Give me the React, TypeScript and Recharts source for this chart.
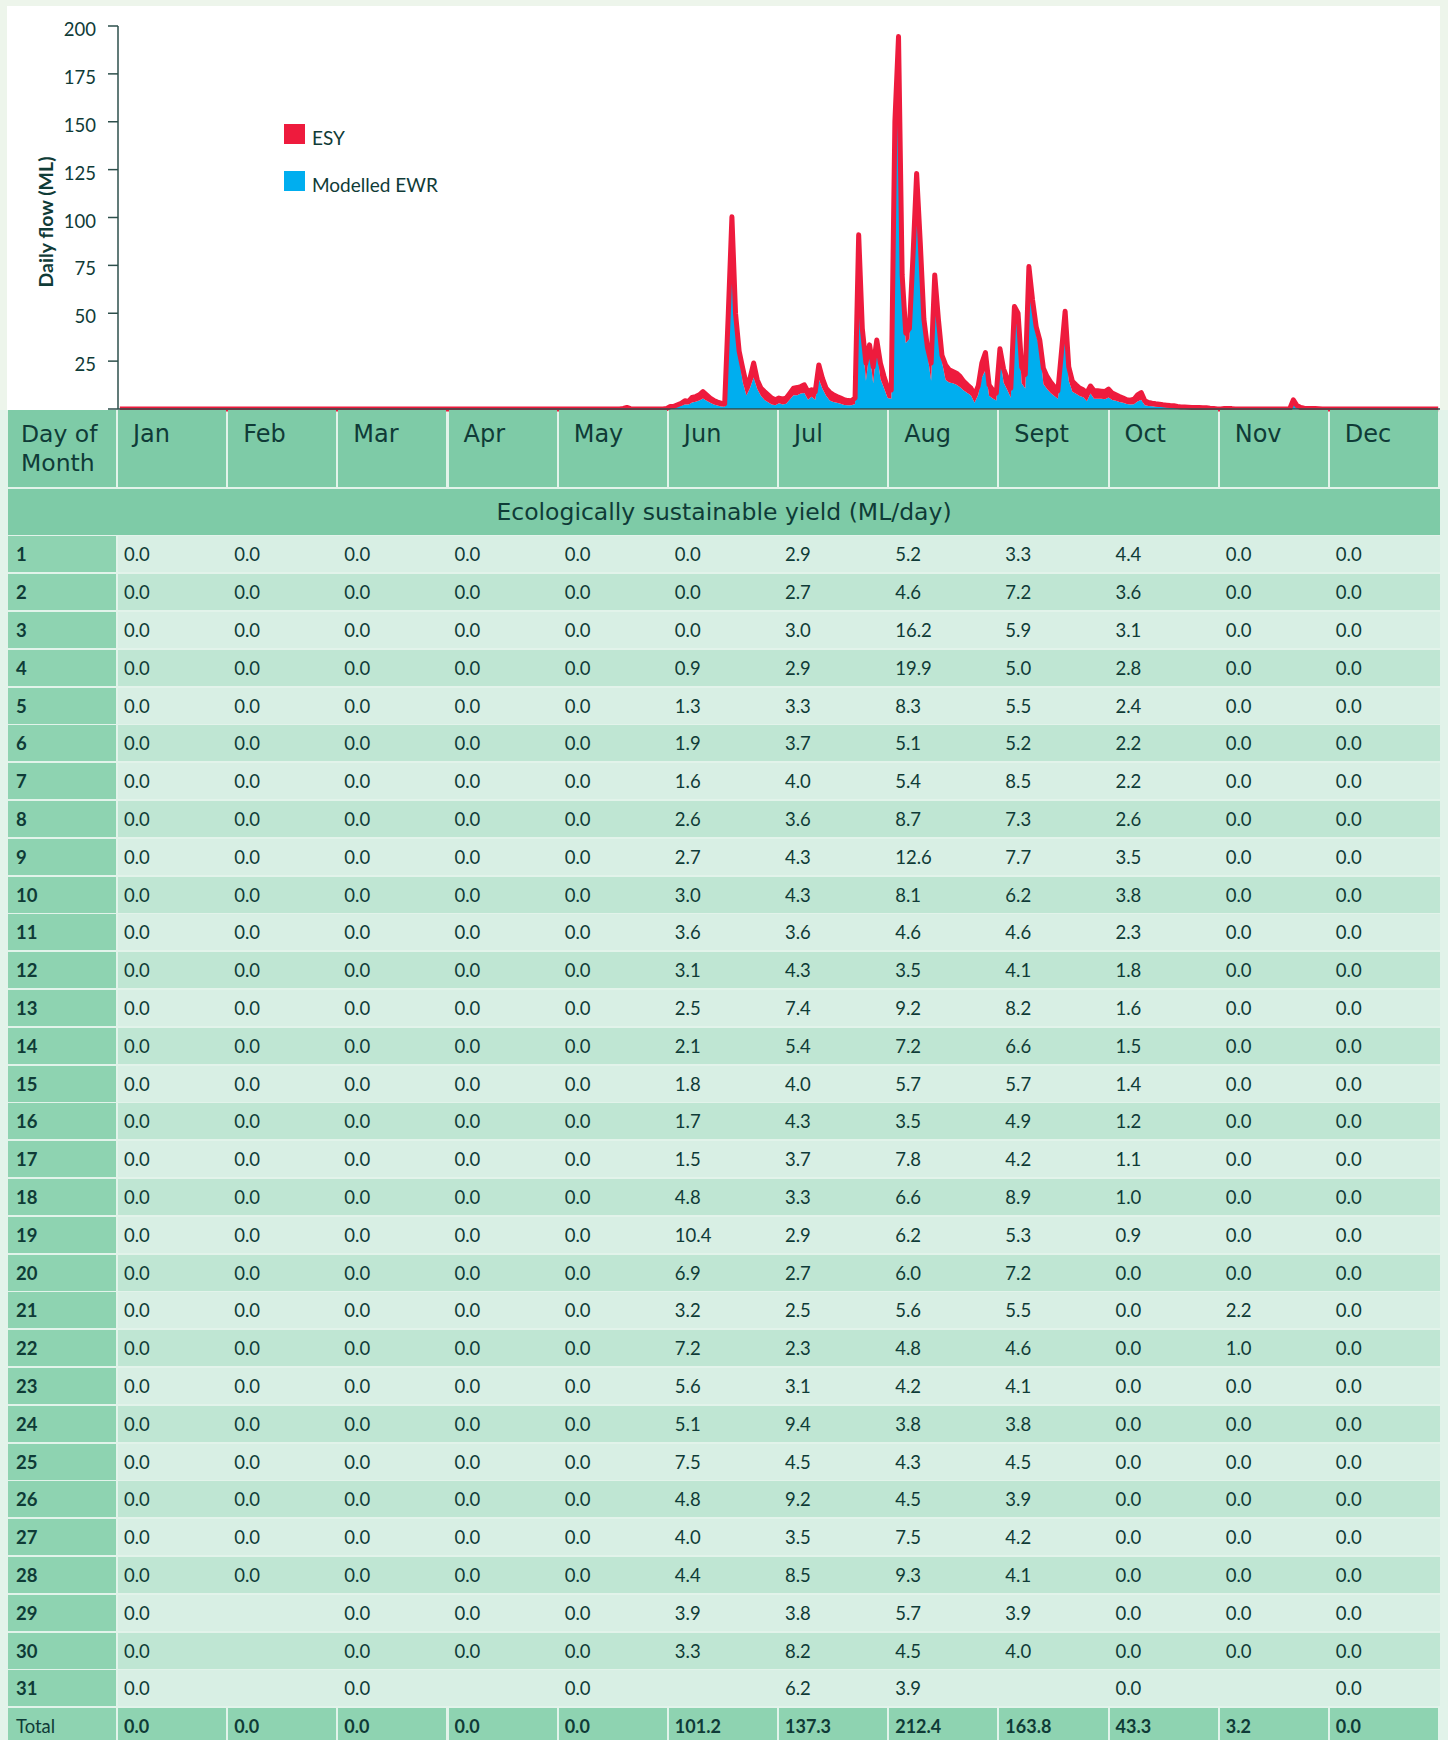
import React from 'react';
import { AreaChart, Area, XAxis, YAxis, Legend } from 'recharts';

const months = ['Jan', 'Feb', 'Mar', 'Apr', 'May', 'Jun', 'Jul', 'Aug', 'Sept', 'Oct', 'Nov', 'Dec'];
const dayOfMonth = [1, 2, 3, 4, 5, 6, 7, 8, 9, 10, 11, 12, 13, 14, 15, 16, 17, 18, 19, 20, 21, 22, 23, 24, 25, 26, 27, 28, 29, 30, 31];
const monthStartTicks = [0, 31, 59, 90, 120, 151, 181, 212, 243, 273, 304, 334, 365];
const flowTicks = [0, 25, 50, 75, 100, 125, 150, 175, 200];

// Ecologically sustainable yield (ML/day), as printed in the table
const esyJan = [0, 0, 0, 0, 0, 0, 0, 0, 0, 0, 0, 0, 0, 0, 0, 0, 0, 0, 0, 0, 0, 0, 0, 0, 0, 0, 0, 0, 0, 0, 0];
const esyFeb = [0, 0, 0, 0, 0, 0, 0, 0, 0, 0, 0, 0, 0, 0, 0, 0, 0, 0, 0, 0, 0, 0, 0, 0, 0, 0, 0, 0];
const esyMar = [0, 0, 0, 0, 0, 0, 0, 0, 0, 0, 0, 0, 0, 0, 0, 0, 0, 0, 0, 0, 0, 0, 0, 0, 0, 0, 0, 0, 0, 0, 0];
const esyApr = [0, 0, 0, 0, 0, 0, 0, 0, 0, 0, 0, 0, 0, 0, 0, 0, 0, 0, 0, 0, 0, 0, 0, 0, 0, 0, 0, 0, 0, 0];
const esyMay = [0, 0, 0, 0, 0, 0, 0, 0, 0, 0, 0, 0, 0, 0, 0, 0, 0, 0, 0, 0, 0, 0, 0, 0, 0, 0, 0, 0, 0, 0, 0];
const esyJun = [0.0, 0.0, 0.0, 0.9, 1.3, 1.9, 1.6, 2.6, 2.7, 3.0, 3.6, 3.1, 2.5, 2.1, 1.8, 1.7, 1.5, 4.8, 10.4, 6.9, 3.2, 7.2, 5.6, 5.1, 7.5, 4.8, 4.0, 4.4, 3.9, 3.3];
const esyJul = [2.9, 2.7, 3.0, 2.9, 3.3, 3.7, 4.0, 3.6, 4.3, 4.3, 3.6, 4.3, 7.4, 5.4, 4.0, 4.3, 3.7, 3.3, 2.9, 2.7, 2.5, 2.3, 3.1, 9.4, 4.5, 9.2, 3.5, 8.5, 3.8, 8.2, 6.2];
const esyAug = [5.2, 4.6, 16.2, 19.9, 8.3, 5.1, 5.4, 8.7, 12.6, 8.1, 4.6, 3.5, 9.2, 7.2, 5.7, 3.5, 7.8, 6.6, 6.2, 6.0, 5.6, 4.8, 4.2, 3.8, 4.3, 4.5, 7.5, 9.3, 5.7, 4.5, 3.9];
const esySep = [3.3, 7.2, 5.9, 5.0, 5.5, 5.2, 8.5, 7.3, 7.7, 6.2, 4.6, 4.1, 8.2, 6.6, 5.7, 4.9, 4.2, 8.9, 5.3, 7.2, 5.5, 4.6, 4.1, 3.8, 4.5, 3.9, 4.2, 4.1, 3.9, 4.0];
const esyOct = [4.4, 3.6, 3.1, 2.8, 2.4, 2.2, 2.2, 2.6, 3.5, 3.8, 2.3, 1.8, 1.6, 1.5, 1.4, 1.2, 1.1, 1.0, 0.9, 0, 0, 0, 0, 0, 0, 0, 0, 0, 0, 0, 0];
const esyNov = [0, 0, 0, 0, 0, 0, 0, 0, 0, 0, 0, 0, 0, 0, 0, 0, 0, 0, 0, 0, 2.2, 1.0, 0, 0, 0, 0, 0, 0, 0, 0];
const esyDec = [0, 0, 0, 0, 0, 0, 0, 0, 0, 0, 0, 0, 0, 0, 0, 0, 0, 0, 0, 0, 0, 0, 0, 0, 0, 0, 0, 0, 0, 0, 0];
const esyTotals = [0.0, 0.0, 0.0, 0.0, 0.0, 101.2, 137.3, 212.4, 163.8, 43.3, 3.2, 0.0];

// Modelled EWR daily flow (ML) (blue area under the ESY band)
const ewrJan = [0, 0, 0, 0, 0, 0, 0, 0, 0, 0, 0, 0, 0, 0, 0, 0, 0, 0, 0, 0, 0, 0, 0, 0, 0, 0, 0, 0, 0, 0, 0];
const ewrFeb = [0, 0, 0, 0, 0, 0, 0, 0, 0, 0, 0, 0, 0, 0, 0, 0, 0, 0, 0, 0, 0, 0, 0, 0, 0, 0, 0, 0];
const ewrMar = [0, 0, 0, 0, 0, 0, 0, 0, 0, 0, 0, 0, 0, 0, 0, 0, 0, 0, 0, 0, 0, 0, 0, 0, 0, 0, 0, 0, 0, 0, 0];
const ewrApr = [0, 0, 0, 0, 0, 0, 0, 0, 0, 0, 0, 0, 0, 0, 0, 0, 0, 0, 0, 0, 0, 0, 0, 0, 0, 0, 0, 0, 0, 0];
const ewrMay = [0, 0, 0, 0, 0, 0, 0, 0, 0, 0, 0, 0, 0, 0, 0, 0, 0, 0, 0, 0.3, 0.8, 0.2, 0, 0, 0, 0, 0, 0, 0, 0, 0];
const ewrJun = [0.3, 1.3, 1.4, 1.3, 1.7, 2.4, 2.3, 3.4, 3.8, 4.4, 5.5, 4.3, 3.2, 2.4, 1.8, 1.3, 1.2, 45, 90, 43, 27, 14, 7, 11, 16.5, 10.4, 6.9, 4.7, 3.5, 2.4];
const ewrJul = [1.9, 3.0, 2.3, 2.8, 5.0, 7.2, 7.2, 8.1, 8.3, 4.8, 6.4, 4.8, 15.6, 10.6, 6.9, 4.5, 3.7, 3.2, 2.8, 2.1, 1.9, 2.0, 2.6, 81.6, 37.5, 14.8, 30, 13.5, 32.2, 15.8, 10.8];
const ewrAug = [5.7, 5.4, 134, 174.6, 61.7, 34.5, 36.6, 71.3, 110.4, 78.9, 42.4, 28.5, 14.8, 62.8, 41.3, 24.5, 15.2, 13.9, 13.4, 12.7, 11.4, 9.6, 8.4, 7.1, 3.2, 7.5, 16.5, 20.2, 6.9, 5.5, 4.4];
const ewrSep = [28.2, 13.8, 10.1, 5.9, 48, 44.8, 13.5, 10.7, 66.7, 50.8, 38.4, 31.9, 13.1, 10.4, 8.3, 6.8, 5.3, 21.1, 45.7, 14.8, 9, 8, 6.8, 6.2, 4, 8.1, 5.3, 5.4, 5.4, 5.1];
const ewrOct = [6.0, 4.7, 4.3, 3.7, 3.3, 2.6, 2.4, 2.5, 3.9, 4.8, 2.0, 1.6, 1.4, 1.2, 1.1, 1.0, 0.9, 0.8, 0.8, 1.3, 1.1, 1.0, 0.9, 0.8, 0.8, 0.8, 0.7, 0.6, 0.4, 0.3, 0];
const ewrNov = [0, 0.3, 0.3, 0.2, 0, 0, 0, 0, 0, 0, 0, 0, 0, 0, 0, 0, 0, 0, 0, 0, 2.6, 0.8, 0.8, 0.4, 0.3, 0.2, 0.2, 0.1, 0, 0];
const ewrDec = [0, 0, 0, 0, 0, 0, 0, 0, 0, 0, 0, 0, 0, 0, 0, 0, 0, 0, 0, 0, 0, 0, 0, 0, 0, 0, 0, 0, 0, 0, 0];

const esyByMonth = [esyJan, esyFeb, esyMar, esyApr, esyMay, esyJun, esyJul, esyAug, esySep, esyOct, esyNov, esyDec];
const ewrByMonth = [ewrJan, ewrFeb, ewrMar, ewrApr, ewrMay, ewrJun, ewrJul, ewrAug, ewrSep, ewrOct, ewrNov, ewrDec];

const flowData = esyByMonth
  .flatMap((days, m) => days.map((esy, d) => ({ esy, ewr: ewrByMonth[m][d] })))
  .map((p, i) => ({ day: i + 0.5, ...p }));

const FONT = 'Lato, "Open Sans", sans-serif';
const HEAD_FONT = '"DejaVu Sans", Lato, sans-serif';
const TEXT = '#0f3b37';
const AXIS = '#2d4f4b';
const RED = '#ee1b3d';
const BLUE = '#00aeef';
const HEADER = '#7ecba7';
const DAYCELL = '#8ed3b1';
const ROW_LIGHT = '#d8efe4';
const ROW_DARK = '#bfe6d3';
const GAP = '#e2f3ea';

const COL_X0 = 118;
const COL_W = 110.17;
const ROW_Y0 = 536.3;
const ROW_H = 37.8;

const YAxisTitle = () => (
  <text
    x={45}
    y={222}
    transform="rotate(-90 45 222)"
    textAnchor="middle"
    dominantBaseline="central"
    fill={TEXT}
    fontSize={19.5}
    fontWeight={700}
    fontFamily={FONT}
  >
    Daily flow (ML)
  </text>
);

const ChartLegend = (props: any) => {
  const payload = props.payload || [];
  const order = ['ESY', 'Modelled EWR'];
  const items = order.map((name) => payload.find((p: any) => p.value === name)).filter(Boolean);
  return (
    <div style={{ fontFamily: FONT }}>
      {items.map((item: any) => (
        <div key={item.value} style={{ display: 'flex', alignItems: 'center', height: 21, marginBottom: 26 }}>
          <span style={{ width: 21, height: 20, background: item.color, display: 'inline-block', marginRight: 7 }} />
          <span style={{ fontSize: 19, color: TEXT, lineHeight: '20px', position: 'relative', top: 4 }}>{item.value}</span>
        </div>
      ))}
    </div>
  );
};

const cellBase: React.CSSProperties = {
  position: 'absolute',
  display: 'flex',
  alignItems: 'center',
  color: TEXT,
  whiteSpace: 'nowrap',
  boxSizing: 'border-box',
};

const FlowTable = () => {
  const els: React.ReactNode[] = [];
  // header row
  els.push(
    <div key="hd" style={{ ...cellBase, left: 8, top: 410, width: 108, height: 77, background: HEADER, alignItems: 'flex-start', paddingLeft: 13, paddingTop: 10, fontSize: 23.5, lineHeight: '29px', fontFamily: HEAD_FONT }}>
      Day of<br />Month
    </div>
  );
  months.forEach((m, i) => {
    els.push(
      <div key={'h' + m} style={{ ...cellBase, left: COL_X0 + i * COL_W, top: 410, width: COL_W - 2, height: 77, background: HEADER, alignItems: 'flex-start', paddingLeft: 15, paddingTop: 10, fontSize: 24, lineHeight: '29px', fontFamily: HEAD_FONT }}>
        {m}
      </div>
    );
  });
  // band
  els.push(
    <div key="band" style={{ ...cellBase, left: 8, top: 489, width: 1432, height: 45.5, background: HEADER, justifyContent: 'center', fontSize: 23.5, fontFamily: HEAD_FONT }}>
      Ecologically sustainable yield (ML/day)
    </div>
  );
  // data rows
  dayOfMonth.forEach((d, k) => {
    const top = ROW_Y0 + k * ROW_H;
    els.push(
      <div key={'d' + d} style={{ ...cellBase, left: 8, top, width: 108, height: 36, background: DAYCELL, paddingLeft: 8, fontSize: 18.5, fontWeight: 700 }}>
        {d}
      </div>
    );
    els.push(
      <div key={'r' + d} style={{ ...cellBase, left: COL_X0, top, width: 1440 - COL_X0, height: 36, background: k % 2 === 0 ? ROW_LIGHT : ROW_DARK }} />
    );
    esyByMonth.forEach((vals, m) => {
      if (k >= vals.length) return;
      els.push(
        <div key={'v' + d + '-' + m} style={{ ...cellBase, left: COL_X0 + m * COL_W, top, width: COL_W, height: 36, paddingLeft: 6, fontSize: 18.5 }}>
          {vals[k].toFixed(1)}
        </div>
      );
    });
  });
  // totals
  const tTop = ROW_Y0 + 31 * ROW_H;
  els.push(
    <div key="tl" style={{ ...cellBase, left: 8, top: tTop, width: 108, height: 36, background: DAYCELL, paddingLeft: 8, fontSize: 18.5 }}>
      Total
    </div>
  );
  esyTotals.forEach((t, m) => {
    els.push(
      <div key={'t' + m} style={{ ...cellBase, left: COL_X0 + m * COL_W, top: tTop, width: COL_W - 2, height: 36, background: DAYCELL, paddingLeft: 6, fontSize: 18, fontWeight: 700 }}>
        {t.toFixed(1)}
      </div>
    );
  });
  return <>{els}</>;
};

export default function App() {
  return (
    <div style={{ position: 'absolute', left: 0, top: 0, width: 1448, height: 1740, overflow: 'hidden', background: '#edf5eb', fontFamily: FONT }}>
      <div style={{ position: 'absolute', left: 0, top: 0, width: 1448, height: 1740, background: GAP }} />
      <div style={{ position: 'absolute', left: 0, top: 0, width: 1448, height: 410, background: '#edf5eb' }} />
      <div style={{ position: 'absolute', left: 7, top: 6, width: 1433, height: 404, background: '#ffffff' }} />
      <div style={{ position: 'absolute', left: 0, top: 0 }}>
        <AreaChart width={1448} height={415} data={flowData} margin={{ top: 26, right: 8, left: 18, bottom: 0 }}>
          <XAxis
            type="number"
            dataKey="day"
            domain={[0, 365]}
            ticks={monthStartTicks}
            tick={false}
            tickSize={4}
            height={6}
            axisLine={{ stroke: AXIS, strokeWidth: 1.5 }}
            tickLine={{ stroke: AXIS }}
          />
          <YAxis
            domain={[0, 200]}
            ticks={flowTicks}
            width={100}
            tickSize={10}
            tickMargin={12}
            tick={{ fontSize: 18.5, fill: TEXT, fontFamily: FONT, dy: 3.5 }}
            tickFormatter={(v: number) => (v === 0 ? '' : String(v))}
            axisLine={{ stroke: AXIS, strokeWidth: 1.5 }}
            tickLine={{ stroke: AXIS, strokeWidth: 1.5 }}
            label={<YAxisTitle />}
          />
          <Legend
            layout="vertical"
            align="center"
            verticalAlign="middle"
            content={<ChartLegend />}
            wrapperStyle={{ left: 284, top: 123, width: 220, height: 80 }}
          />
          <Area
            type="linear"
            dataKey="ewr"
            name="Modelled EWR"
            stackId="flow"
            fill={BLUE}
            fillOpacity={1}
            stroke="none"
            isAnimationActive={false}
          />
          <Area
            type="linear"
            dataKey="esy"
            name="ESY"
            stackId="flow"
            fill={RED}
            fillOpacity={1}
            stroke={RED}
            strokeWidth={5}
            strokeLinejoin="round"
            isAnimationActive={false}
          />
        </AreaChart>
      </div>
      <FlowTable />
    </div>
  );
}
